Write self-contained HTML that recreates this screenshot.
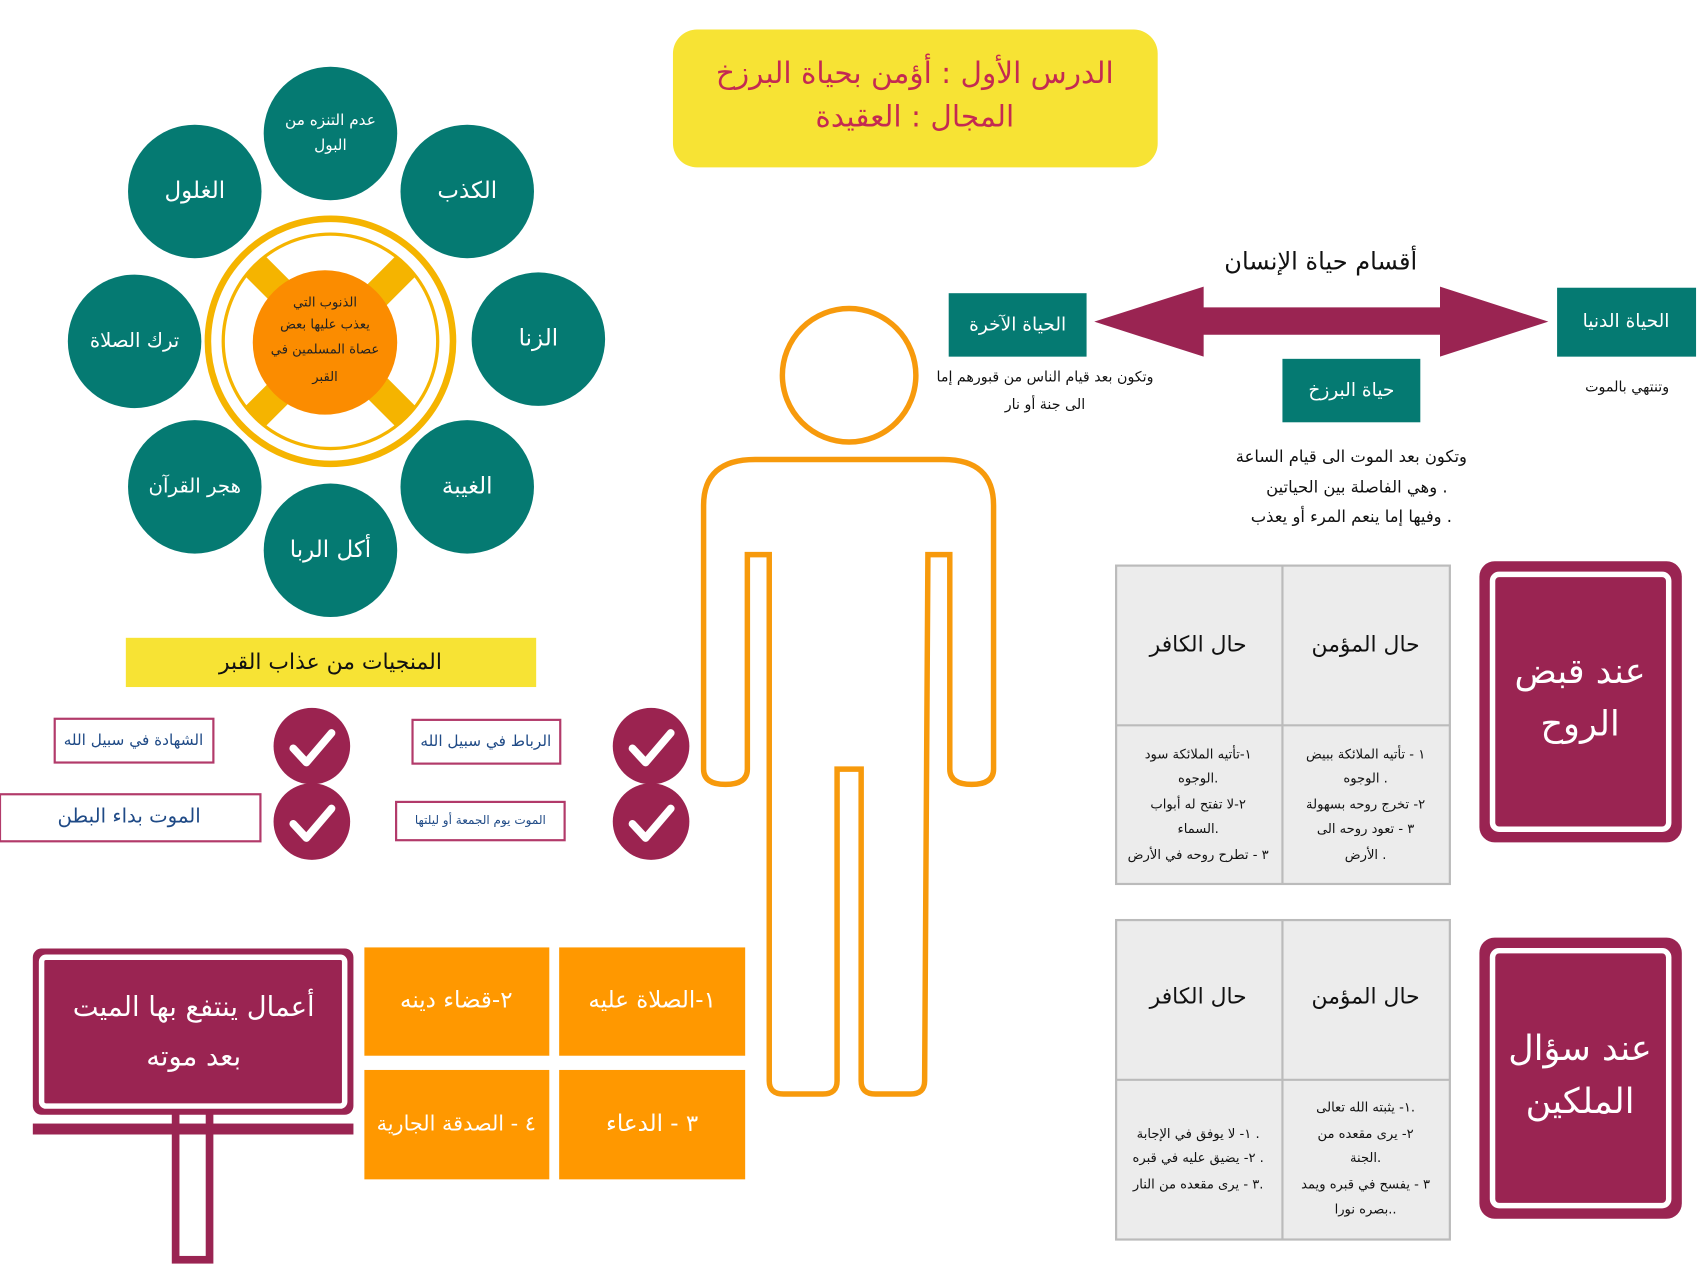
<!DOCTYPE html>
<html><head><meta charset="utf-8"><style>
html,body{margin:0;padding:0;background:#fff;}
svg{display:block;}
text{font-family:"DejaVu Sans","Liberation Sans",sans-serif;text-anchor:middle;dominant-baseline:middle;}
</style></head><body>
<svg width="1707" height="1280" viewBox="0 0 1560 1170" preserveAspectRatio="none" xmlns="http://www.w3.org/2000/svg">
<!-- title -->
<rect x="615" y="27" width="443" height="126" rx="22" fill="#f7e334"/>
<text x="836" y="68" font-size="27" fill="#c42a52" direction="rtl">الدرس الأول : أؤمن بحياة البرزخ</text>
<text x="836" y="108" font-size="27" fill="#c42a52" direction="rtl">المجال : العقيدة</text>

<!-- flower -->
<circle cx="302" cy="312" r="112" fill="#fff" stroke="#f5b400" stroke-width="6"/>
<circle cx="302" cy="312" r="98" fill="none" stroke="#f5b400" stroke-width="3"/>
<g stroke="#f5b400" stroke-width="26">
<line x1="233" y1="243" x2="371" y2="381"/><line x1="371" y1="243" x2="233" y2="381"/>
</g>
<circle cx="297" cy="313" r="66" fill="#fb8c00"/>
<g font-size="12" fill="#222">
<text x="297" y="277">الذنوب التي</text>
<text x="297" y="297">يعذب عليها بعض</text>
<text x="297" y="320">عصاة المسلمين في</text>
<text x="297" y="345">القبر</text>
</g>
<g fill="#057a72">
<circle cx="302" cy="122" r="61"/><circle cx="427" cy="175" r="61"/><circle cx="492" cy="310" r="61"/>
<circle cx="427" cy="445" r="61"/><circle cx="302" cy="503" r="61"/><circle cx="178" cy="445" r="61"/>
<circle cx="123" cy="312" r="61"/><circle cx="178" cy="175" r="61"/>
</g>
<g fill="#fff" font-size="21">
<text x="302" y="110" font-size="14">عدم التنزه من</text><text x="302" y="133" font-size="14">البول</text>
<text x="427" y="175">الكذب</text><text x="492" y="310">الزنا</text><text x="427" y="445">الغيبة</text>
<text x="302" y="503">أكل الربا</text><text x="178" y="445" font-size="18">هجر القرآن</text>
<text x="123" y="312" font-size="18">ترك الصلاة</text><text x="178" y="175">الغلول</text>
</g>

<!-- rescue -->
<rect x="115" y="583" width="375" height="45" fill="#f7e334"/>
<text x="302" y="606" font-size="20" fill="#111">المنجيات من عذاب القبر</text>
<g fill="#fff" stroke="#b23a6a" stroke-width="2">
<rect x="50" y="657" width="145" height="40"/><rect x="377" y="658" width="135" height="40"/>
<rect x="0" y="726" width="238" height="43"/><rect x="362" y="733" width="154" height="35"/>
</g>
<g fill="#1f4a86">
<text x="122" y="677" font-size="14">الشهادة في سبيل الله</text>
<text x="444" y="678" font-size="14">الرباط في سبيل الله</text>
<text x="118" y="747" font-size="18">الموت بداء البطن</text>
<text x="439" y="750" font-size="11">الموت يوم الجمعة أو ليلتها</text>
</g>
<g fill="#9b2350"><circle cx="285" cy="682" r="35"/><circle cx="285" cy="751" r="35"/><circle cx="595" cy="682" r="35"/><circle cx="595" cy="751" r="35"/></g>
<g fill="none" stroke="#fff" stroke-width="7" stroke-linecap="round" stroke-linejoin="round">
<polyline points="268,684 280,697 303,670"/><polyline points="268,753 280,766 303,739"/>
<polyline points="578,684 590,697 613,670"/><polyline points="578,753 590,766 613,739"/>
</g>

<!-- human -->
<circle cx="776" cy="343" r="61" fill="none" stroke="#f79a0c" stroke-width="5"/>
<path d="M765,703 L787,703 L787,988 Q787,1000 800,1000 L832,1000 Q845,1000 845,988 L848,507 L868,507 L868,703 Q868,717 888,717 Q908,717 908,703 L908,462 Q908,420 862,420 L690,420 Q643,420 643,462 L643,703 Q643,717 663,717 Q683,717 683,703 L683,507 L703,507 L703,988 Q703,1000 716,1000 L752,1000 Q765,1000 765,988 Z" fill="none" stroke="#f79a0c" stroke-width="5"/>

<!-- arrow -->
<polygon points="1000,294 1100,262 1100,281 1316,281 1316,262 1415,294 1316,326 1316,306 1100,306 1100,326" fill="#9a2452"/>
<text x="1207" y="240" font-size="22" fill="#111">أقسام حياة الإنسان</text>
<g fill="#057a72"><rect x="867" y="268" width="126" height="58"/><rect x="1172" y="328" width="126" height="58"/><rect x="1423" y="263" width="127" height="63"/></g>
<g fill="#fff" font-size="17"><text x="930" y="297">الحياة الآخرة</text><text x="1235" y="357">حياة البرزخ</text><text x="1486" y="294">الحياة الدنيا</text></g>
<g fill="#111" font-size="13">
<text x="955" y="345">وتكون بعد قيام الناس من قبورهم إما</text><text x="955" y="370">الى جنة أو نار</text>
<text x="1487" y="354">وتنتهي بالموت</text>
<text x="1235" y="418" font-size="15">وتكون بعد الموت الى قيام الساعة</text>
<text x="1240" y="446" font-size="15">وهي الفاصلة بين الحياتين .</text>
<text x="1235" y="473" font-size="15">وفيها إما ينعم المرء أو يعذب .</text>
</g>

<!-- tables -->
<g fill="#ececec" stroke="#bbb" stroke-width="2">
<rect x="1020" y="517" width="305" height="291"/><rect x="1020" y="841" width="305" height="292"/>
</g>
<g stroke="#bbb" stroke-width="2">
<line x1="1172" y1="517" x2="1172" y2="808"/><line x1="1020" y1="663" x2="1325" y2="663"/>
<line x1="1172" y1="841" x2="1172" y2="1133"/><line x1="1020" y1="987" x2="1325" y2="987"/>
</g>
<g fill="#111" font-size="20">
<text x="1095" y="590">حال الكافر</text><text x="1248" y="590">حال المؤمن</text>
<text x="1095" y="912">حال الكافر</text><text x="1248" y="912">حال المؤمن</text>
</g>
<g fill="#111" font-size="12">
<text x="1248" y="690">١ - تأتيه الملائكة ببيض</text><text x="1248" y="712">الوجوه .</text>
<text x="1248" y="736">٢- تخرج روحه بسهولة</text><text x="1248" y="758">٣ - تعود روحه الى</text><text x="1248" y="782">الأرض .</text>
<text x="1095" y="690">١-تأتيه الملائكة سود</text><text x="1095" y="712">الوجوه.</text>
<text x="1095" y="736">٢-لا تفتح له أبواب</text><text x="1095" y="758">السماء.</text><text x="1095" y="782">٣ - تطرح روحه في الأرض</text>
<text x="1248" y="1013">١- يثبته الله تعالى.</text><text x="1248" y="1037">٢- يرى مقعده من</text>
<text x="1248" y="1059">الجنة.</text><text x="1248" y="1083">٣ - يفسح في قبره ويمد</text><text x="1248" y="1106">بصره نورا..</text>
<text x="1095" y="1037">١- لا يوفق في الإجابة .</text><text x="1095" y="1059">٢- يضيق عليه في قبره .</text><text x="1095" y="1083">٣ - يرى مقعده من النار.</text>
</g>

<!-- crimson boxes -->
<g fill="#9a2452">
<rect x="1352" y="513" width="185" height="257" rx="14"/><rect x="1352" y="857" width="185" height="257" rx="14"/>
</g>
<g fill="none" stroke="#fff" stroke-width="5">
<rect x="1364" y="525" width="161" height="233" rx="6"/><rect x="1364" y="869" width="161" height="233" rx="6"/>
</g>
<g fill="#fff" font-size="32">
<text x="1444" y="615">عند قبض</text><text x="1444" y="663">الروح</text>
<text x="1444" y="960">عند سؤال</text><text x="1444" y="1008">الملكين</text>
</g>

<!-- sign -->
<rect x="157" y="1015" width="38" height="140" fill="#9a2452"/>
<rect x="164" y="1015" width="24" height="133" fill="#fff"/>
<rect x="30" y="1027" width="293" height="10" fill="#9a2452"/>
<rect x="30" y="867" width="293" height="152" rx="8" fill="#9a2452"/>
<rect x="38" y="875" width="277" height="136" rx="4" fill="none" stroke="#fff" stroke-width="5"/>
<g fill="#fff" font-size="25"><text x="177" y="922">أعمال ينتفع بها الميت</text><text x="177" y="967">بعد موته</text></g>

<g fill="#ff9800">
<rect x="333" y="866" width="169" height="99"/><rect x="511" y="866" width="170" height="99"/>
<rect x="333" y="978" width="169" height="100"/><rect x="511" y="978" width="170" height="100"/>
</g>
<g fill="#fff" font-size="21">
<text x="417" y="915">٢-قضاء دينه</text><text x="596" y="915">١-الصلاة عليه</text>
<text x="417" y="1028" font-size="19">٤ - الصدقة الجارية</text><text x="596" y="1028">٣ - الدعاء</text>
</g>
</svg>
</body></html>
